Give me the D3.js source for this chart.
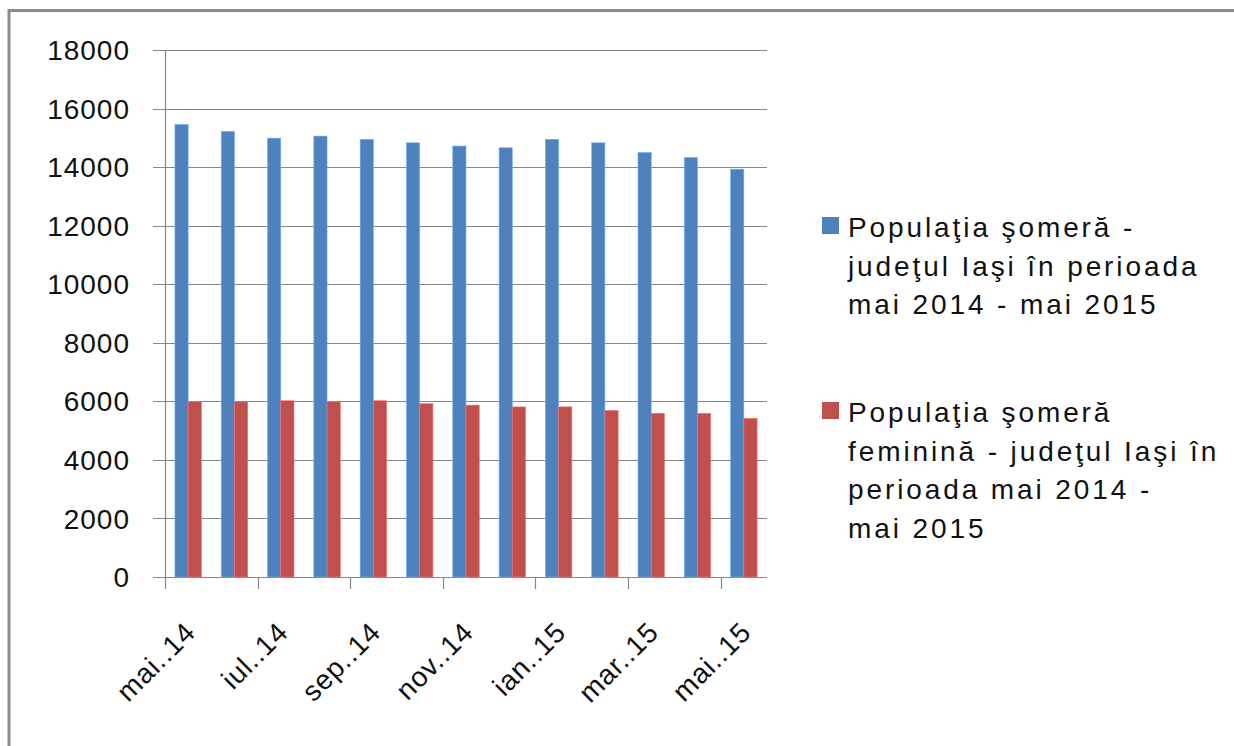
<!DOCTYPE html>
<html>
<head>
<meta charset="utf-8">
<script src="https://cdn.jsdelivr.net/npm/d3@7"></script>
<style>
  body { margin: 0; background: #fff; }
  svg { display: block; font-family: "Liberation Sans", Arial, sans-serif; }
</style>
</head>
<body>
<div id="main"></div>
<script>
// months shown on the x axis (every second one gets a label)
var months = ["mai..14", "iun..14", "iul..14", "aug..14", "sep..14", "oct..14", "nov..14",
              "dec..14", "ian..15", "feb..15", "mar..15", "apr..15", "mai..15"];
// total unemployed, Iasi county
var totalValues = [15460, 15220, 14990, 15060, 14950, 14830, 14720,
                   14660, 14950, 14830, 14500, 14330, 13930];
// unemployed women, Iasi county
var femaleValues = [5990, 5990, 6020, 5990, 6020, 5920, 5870,
                    5810, 5810, 5690, 5590, 5590, 5420];
var seriesNames = [
    ["Populaţia şomeră -", "judeţul Iaşi în perioada", "mai 2014 - mai 2015"],
    ["Populaţia şomeră", "feminină - judeţul Iaşi în", "perioada mai 2014 -", "mai 2015"]
];
var yTicks = [0, 2000, 4000, 6000, 8000, 10000, 12000, 14000, 16000, 18000];

var ctx = {
    width: 1234,
    height: 746,
    left: 165,
    right: 767,
    top: 50,
    bottom: 577,
    colors: ["#4F81BD", "#C0504D"],
    axisColor: "#878787"
};

var createViz = function(){
    var svg = d3.select("#main").append("svg")
                .attr("width", ctx.width)
                .attr("height", ctx.height);

    // outer frame (only top and left edges are visible)
    svg.append("path")
       .attr("d", "M9,746V10.5H1234")
       .attr("fill", "none")
       .attr("stroke", "#8c8c8c")
       .attr("stroke-width", 3);

    var x = d3.scaleBand()
              .domain(months)
              .range([ctx.left, ctx.right]);
    var y = d3.scaleLinear()
              .domain([0, 18000])
              .range([ctx.bottom, ctx.top]);

    var band = x.bandwidth();
    var barW = band / 3.5;   // gap width 150%

    // gridlines + y tick labels
    var grid = svg.append("g");
    grid.selectAll("line")
        .data(yTicks)
        .enter().append("line")
          .attr("x1", ctx.left - 12)
          .attr("x2", ctx.right)
          .attr("y1", function(d) { return Math.round(y(d)) + 0.5; })
          .attr("y2", function(d) { return Math.round(y(d)) + 0.5; })
          .attr("stroke", ctx.axisColor)
          .attr("stroke-width", 1.2);

    grid.selectAll("text")
        .data(yTicks)
        .enter().append("text")
          .attr("x", 130)
          .attr("y", function(d) { return y(d); })
          .attr("dy", "0.36em")
          .attr("text-anchor", "end")
          .attr("font-size", 28)
          .attr("letter-spacing", 1)
          .attr("fill", "#111")
          .text(function(d) { return d; });

    // bars
    var series = [totalValues, femaleValues];
    series.forEach(function(vals, si) {
        svg.append("g").selectAll("rect")
           .data(vals)
           .enter().append("rect")
             .attr("x", function(d, i) { return x(months[i]) + band / 2 - barW + si * barW; })
             .attr("width", barW)
             .attr("y", function(d) { return y(d); })
             .attr("height", function(d) { return ctx.bottom - y(d); })
             .attr("fill", ctx.colors[si])
             .attr("stroke", d3.color(ctx.colors[si]).brighter(0.9))
             .attr("stroke-width", 0.6);
    });

    // y axis line
    svg.append("line")
       .attr("x1", ctx.left + 0.5).attr("x2", ctx.left + 0.5)
       .attr("y1", ctx.top).attr("y2", ctx.bottom)
       .attr("stroke", ctx.axisColor).attr("stroke-width", 1.2);

    // x axis ticks every 2 categories
    var xg = svg.append("g");
    var labelled = months.filter(function(m, i) { return i % 2 === 0; });
    xg.selectAll("line")
      .data(labelled)
      .enter().append("line")
        .attr("x1", function(d) { return Math.round(x(d)) + 0.5; })
        .attr("x2", function(d) { return Math.round(x(d)) + 0.5; })
        .attr("y1", ctx.bottom)
        .attr("y2", ctx.bottom + 12)
        .attr("stroke", ctx.axisColor)
        .attr("stroke-width", 1.2);

    xg.selectAll("text")
      .data(labelled)
      .enter().append("text")
        .attr("transform", function(d) {
            return "translate(" + (x(d) + band / 2 + 9) + "," + 634 + ")rotate(-45)";
        })
        .attr("text-anchor", "end")
        .attr("font-size", 28)
        .attr("letter-spacing", 0.8)
        .attr("fill", "#111")
        .text(function(d) { return d; });

    // legend
    var legendTops = [237, 422];
    var lg = svg.append("g");
    seriesNames.forEach(function(lines, si) {
        lg.append("rect")
          .attr("x", 822)
          .attr("y", legendTops[si] - 20)
          .attr("width", 17)
          .attr("height", 17)
          .attr("fill", ctx.colors[si]);
        var t = lg.append("text")
                  .attr("x", 848)
                  .attr("y", legendTops[si])
                  .attr("font-size", 28)
                  .attr("letter-spacing", 2.9)
                  .attr("fill", "#111");
        lines.forEach(function(line, li) {
            t.append("tspan")
             .attr("x", 848)
             .attr("dy", li === 0 ? 0 : 38.5)
             .text(line);
        });
    });
};

createViz();
</script>
</body>
</html>
